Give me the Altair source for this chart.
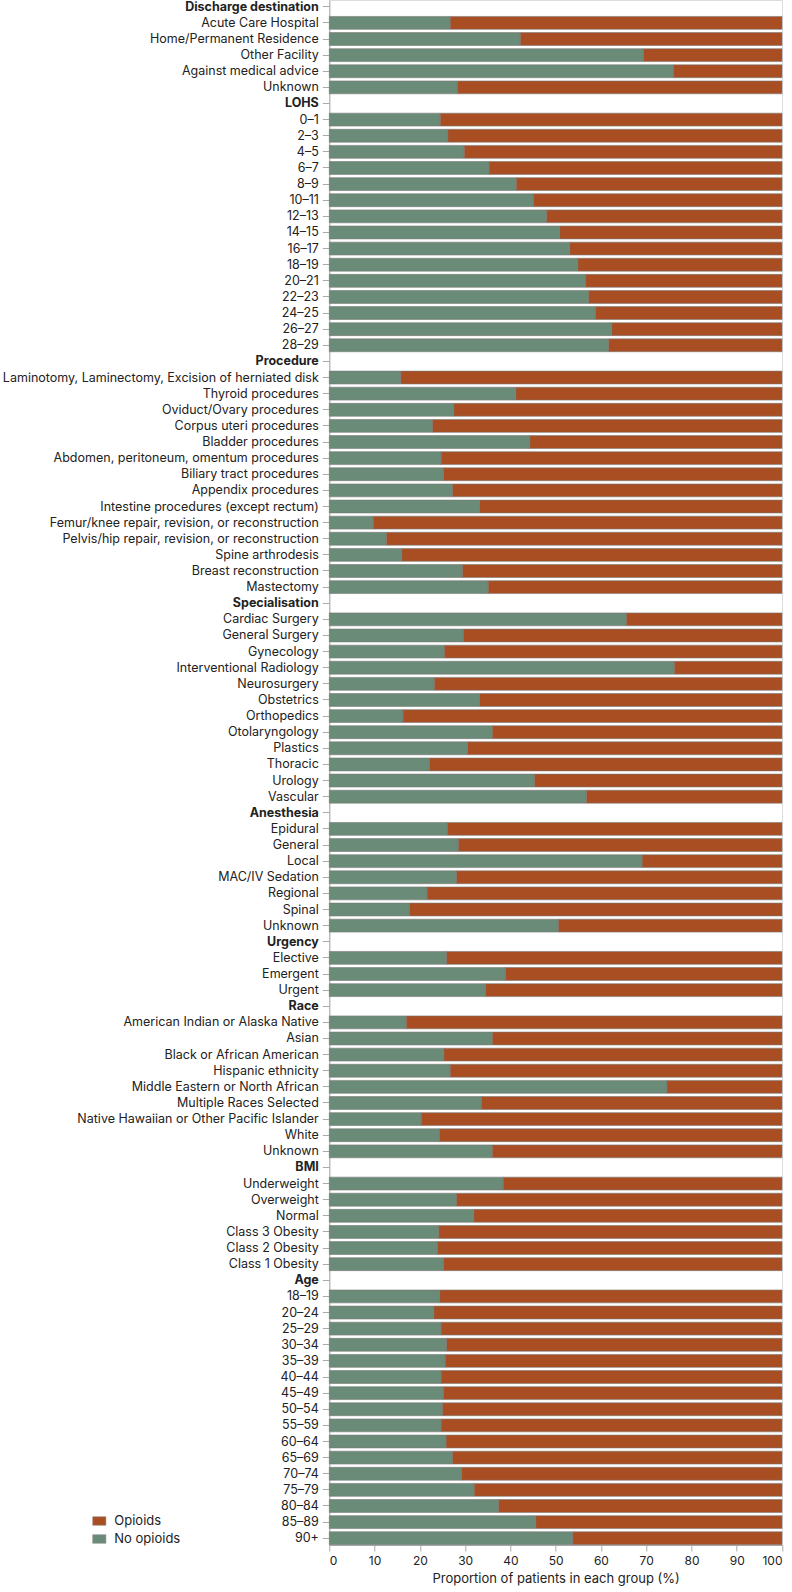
import altair as alt
import pandas as pd

# ---------------- data ----------------
section_titles = ["Discharge destination", "LOHS", "Procedure", "Specialisation",
                  "Anesthesia", "Urgency", "Race", "BMI", "Age"]

discharge_labels = ["Acute Care Hospital", "Home/Permanent Residence", "Other Facility",
                    "Against medical advice", "Unknown"]
discharge_no_opioids = [26.7, 42.2, 69.4, 76.0, 28.3]

lohs_labels = ["0–1", "2–3", "4–5", "6–7", "8–9", "10–11", "12–13", "14–15", "16–17",
               "18–19", "20–21", "22–23", "24–25", "26–27", "28–29"]
lohs_no_opioids = [24.5, 26.2, 29.8, 35.3, 41.3, 45.1, 48.0, 50.9, 53.1, 54.9, 56.6,
                   57.3, 58.8, 62.4, 61.7]

procedure_labels = ["Laminotomy, Laminectomy, Excision of herniated disk", "Thyroid procedures",
                    "Oviduct/Ovary procedures", "Corpus uteri procedures", "Bladder procedures",
                    "Abdomen, peritoneum, omentum procedures", "Biliary tract procedures",
                    "Appendix procedures", "Intestine procedures (except rectum)",
                    "Femur/knee repair, revision, or reconstruction",
                    "Pelvis/hip repair, revision, or reconstruction", "Spine arthrodesis",
                    "Breast reconstruction", "Mastectomy"]
procedure_no_opioids = [15.8, 41.2, 27.5, 22.8, 44.3, 24.7, 25.2, 27.2, 33.2, 9.7, 12.6,
                        16.0, 29.4, 35.1]

specialisation_labels = ["Cardiac Surgery", "General Surgery", "Gynecology",
                         "Interventional Radiology", "Neurosurgery", "Obstetrics",
                         "Orthopedics", "Otolaryngology", "Plastics", "Thoracic", "Urology",
                         "Vascular"]
specialisation_no_opioids = [65.6, 29.6, 25.4, 76.2, 23.2, 33.2, 16.3, 36.0, 30.5, 22.1,
                             45.3, 56.8]

anesthesia_labels = ["Epidural", "General", "Local", "MAC/IV Sedation", "Regional", "Spinal",
                     "Unknown"]
anesthesia_no_opioids = [26.1, 28.5, 69.1, 28.1, 21.6, 17.7, 50.6]

urgency_labels = ["Elective", "Emergent", "Urgent"]
urgency_no_opioids = [25.9, 38.9, 34.5]

race_labels = ["American Indian or Alaska Native", "Asian", "Black or African American",
               "Hispanic ethnicity", "Middle Eastern or North African",
               "Multiple Races Selected", "Native Hawaiian or Other Pacific Islander",
               "White", "Unknown"]
race_no_opioids = [17.0, 36.0, 25.3, 26.7, 74.6, 33.6, 20.3, 24.3, 36.0]

bmi_labels = ["Underweight", "Overweight", "Normal", "Class 3 Obesity", "Class 2 Obesity",
              "Class 1 Obesity"]
bmi_no_opioids = [38.4, 28.1, 31.9, 24.2, 23.9, 25.2]

age_labels = ["18–19", "20–24", "25–29", "30–34", "35–39", "40–44", "45–49", "50–54",
              "55–59", "60–64", "65–69", "70–74", "75–79", "80–84", "85–89", "90+"]
age_no_opioids = [24.4, 23.1, 24.7, 25.9, 25.6, 24.7, 25.2, 25.0, 24.7, 25.8, 27.2, 29.2,
                  32.0, 37.4, 45.6, 53.8]

series_names = ["Opioids", "No opioids"]
series_colors = ["#a84e22", "#6a8b77"]

# ---------------- build table ----------------
sections = [
    (section_titles[0], discharge_labels, discharge_no_opioids),
    (section_titles[1], lohs_labels, lohs_no_opioids),
    (section_titles[2], procedure_labels, procedure_no_opioids),
    (section_titles[3], specialisation_labels, specialisation_no_opioids),
    (section_titles[4], anesthesia_labels, anesthesia_no_opioids),
    (section_titles[5], urgency_labels, urgency_no_opioids),
    (section_titles[6], race_labels, race_no_opioids),
    (section_titles[7], bmi_labels, bmi_no_opioids),
    (section_titles[8], age_labels, age_no_opioids),
]

keys = []
rows = []
for si, (title, labels, vals) in enumerate(sections):
    keys.append(f"{title}|h{si}")
    for lab, v in zip(labels, vals):
        k = f"{lab}|{si}"
        keys.append(k)
        rows.append({"key": k, "group": "No opioids", "value": v, "ord": 0})
        rows.append({"key": k, "group": "Opioids", "value": round(100 - v, 1), "ord": 1})

df = pd.DataFrame(rows)

FONT = "Inter"

chart = alt.Chart(df).mark_bar(stroke="#7a7a7a", strokeWidth=0.6).encode(
    x=alt.X("value:Q", stack="zero",
            scale=alt.Scale(domain=[0, 100], nice=False),
            axis=alt.Axis(values=list(range(0, 101, 10)), grid=False,
                          title="Proportion of patients in each group (%)",
                          titleFontSize=13, titleFontWeight="normal", titleColor="#222",
                          titlePadding=6, labelFontSize=12, labelColor="#222",
                          tickSize=6, tickColor="#aaa", domainColor="#aaa",
                          labelPadding=4)),
    y=alt.Y("key:N", scale=alt.Scale(domain=keys, paddingInner=0.2, paddingOuter=0.02),
            axis=alt.Axis(title=None, labelExpr="split(datum.value, '|')[0]",
                          labelFontSize=12.5, labelColor="#222", labelLimit=400,
                          labelFontWeight={"condition": {"test": "indexof(datum.value, '|h') >= 0",
                                                         "value": "bold"},
                                           "value": "normal"},
                          tickSize=7, tickColor="#aaa", domainColor="#aaa",
                          labelPadding=4)),
    color=alt.Color("group:N",
                    scale=alt.Scale(domain=series_names, range=series_colors),
                    legend=alt.Legend(title=None, orient="none", legendX=-237, legendY=1514,
                                      symbolType="M-1,-0.65L1,-0.65L1,0.65L-1,0.65Z",
                                      symbolSize=177, symbolStrokeColor="#999",
                                      symbolStrokeWidth=0.6, symbolOpacity=1,
                                      labelFontSize=13, labelColor="#222",
                                      rowPadding=4, padding=0, labelOffset=8)),
    order=alt.Order("ord:Q"),
).properties(
    width=452.7, height=1545,
    autosize=alt.AutoSizeParams(type="none"),
    padding={"left": 329.3, "top": 0, "right": 10, "bottom": 47},
).configure_view(stroke=None).configure(font=FONT)

chart.save("out.html", embed_options={"renderer": "svg", "actions": False})
